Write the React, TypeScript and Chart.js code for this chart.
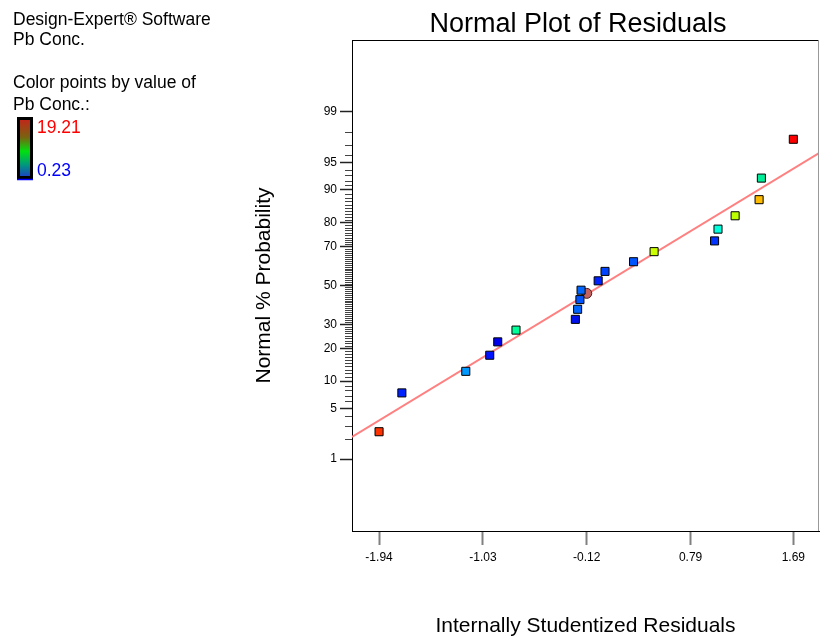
import React, { useEffect, useRef } from 'react';
import { Chart, registerables } from 'chart.js';

Chart.register(...registerables);

// ---- data ----
const RESIDUALS = [-1.94, -1.74, -1.18, -0.97, -0.9, -0.74, -0.22, -0.2, -0.18, -0.17, -0.02, 0.04, 0.29, 0.47, 1.0, 1.03, 1.18, 1.39, 1.41, 1.69];
const NORMAL_PCT = [2.5, 7.5, 12.5, 17.5, 22.5, 27.5, 32.5, 37.5, 42.5, 47.5, 52.5, 57.5, 62.5, 67.5, 72.5, 77.5, 82.5, 87.5, 92.5, 97.5];
const POINT_COLORS = ['#ff3300', '#0022ff', '#0099ff', '#0011ff', '#0000ee', '#00ff99', '#0011ee', '#0066ff', '#0055ff', '#0066ff', '#0022ff', '#0044ff', '#0055ff', '#ccff00', '#0033ff', '#00ffdd', '#bbff00', '#ffbb00', '#00ee99', '#ff0000'];
const CENTER_X = [-0.12];
const CENTER_PCT = [45.8];
const FIT_X = [-2.177, 1.915];
const FIT_PCT = [2.12, 96.2];

const X_MIN = -2.177;
const X_MAX = 1.915;
const X_TICKS = [-1.94, -1.03, -0.12, 0.79, 1.69];
const X_TICK_LABELS = ['-1.94', '-1.03', '-0.12', '0.79', '1.69'];
const Y_MIN_PCT = 0.05;
const Y_MAX_PCT = 99.95;
const Y_MAJOR_PCT = [1, 5, 10, 20, 30, 50, 70, 80, 90, 95, 99];
const Y_MAJOR_LABELS = ['1', '5', '10', '20', '30', '50', '70', '80', '90', '95', '99'];

const TITLE = 'Normal Plot of Residuals';
const X_TITLE = 'Internally Studentized Residuals';
const Y_TITLE = 'Normal % Probability';
const INFO_LINES = ['Design-Expert\u00AE Software', 'Pb Conc.', '', 'Color points by value of', 'Pb Conc.:'];
const COLOR_MAX_LABEL = '19.21';
const COLOR_MIN_LABEL = '0.23';

const FAMILY = '"Liberation Sans", Arial, Helvetica, sans-serif';

// inverse standard normal CDF (Acklam) — maps percentages onto the probit axis
function probit(pct: number): number {
  const p = pct / 100;
  const a = [-3.969683028665376e1, 2.209460984245205e2, -2.759285104469687e2, 1.38357751867269e2, -3.066479806614716e1, 2.506628277459239];
  const b = [-5.447609879822406e1, 1.615858368580409e2, -1.556989798598866e2, 6.680131188771972e1, -1.328068155288572e1];
  const c = [-7.784894002430293e-3, -3.223964580411365e-1, -2.400758277161838, -2.549671348283477, 4.374664141464968, 2.938163982698783];
  const d = [7.784695709041462e-3, 3.224671290700398e-1, 2.445134137142996, 3.754408661907416];
  const pl = 0.02425;
  if (p < pl) {
    const q = Math.sqrt(-2 * Math.log(p));
    return (((((c[0] * q + c[1]) * q + c[2]) * q + c[3]) * q + c[4]) * q + c[5]) / ((((d[0] * q + d[1]) * q + d[2]) * q + d[3]) * q + 1);
  }
  if (p <= 1 - pl) {
    const q = p - 0.5;
    const r = q * q;
    return ((((((a[0] * r + a[1]) * r + a[2]) * r + a[3]) * r + a[4]) * r + a[5]) * q) / (((((b[0] * r + b[1]) * r + b[2]) * r + b[3]) * r + b[4]) * r + 1);
  }
  const q = Math.sqrt(-2 * Math.log(1 - p));
  return -(((((c[0] * q + c[1]) * q + c[2]) * q + c[3]) * q + c[4]) * q + c[5]) / ((((d[0] * q + d[1]) * q + d[2]) * q + d[3]) * q + 1);
}

const decorPlugin = {
  id: 'decor',
  afterDraw(chart: any) {
    const ctx = chart.ctx;
    const area = chart.chartArea;
    const yScale = chart.scales.y;
    ctx.save();
    // minor probability ticks (every integer percent)
    ctx.strokeStyle = '#444';
    ctx.lineWidth = 1;
    ctx.beginPath();
    for (let p = 1; p <= 99; p++) {
      if (Y_MAJOR_PCT.includes(p)) continue;
      const y = Math.round(yScale.getPixelForValue(probit(p))) + 0.5;
      ctx.moveTo(area.left - 7, y);
      ctx.lineTo(area.left, y);
    }
    ctx.stroke();
    // frame top & right
    ctx.strokeStyle = '#000';
    ctx.beginPath();
    ctx.moveTo(Math.round(area.left) + 0.5, Math.round(area.top) + 0.5);
    ctx.lineTo(Math.round(area.right) - 0.5, Math.round(area.top) + 0.5);
    ctx.stroke();
    ctx.strokeStyle = '#999';
    ctx.beginPath();
    ctx.moveTo(Math.round(area.right) - 0.5, Math.round(area.top) + 0.5);
    ctx.lineTo(Math.round(area.right) - 0.5, Math.round(area.bottom));
    ctx.stroke();

    // chart title
    ctx.fillStyle = '#000';
    ctx.font = `27px ${FAMILY}`;
    ctx.textAlign = 'center';
    ctx.textBaseline = 'alphabetic';
    ctx.fillText(TITLE, 578, 32);

    // info text
    ctx.font = `17.5px ${FAMILY}`;
    ctx.textAlign = 'left';
    const baselines = [25, 45, 66, 88, 110];
    INFO_LINES.forEach((t, i) => {
      if (t) ctx.fillText(t, 13, baselines[i]);
    });

    // color bar
    const g = ctx.createLinearGradient(0, 120, 0, 177);
    g.addColorStop(0, '#c0281a');
    g.addColorStop(0.3, '#7a6210');
    g.addColorStop(0.55, '#00e010');
    g.addColorStop(0.78, '#009a7a');
    g.addColorStop(1, '#1a40c8');
    ctx.fillStyle = g;
    ctx.fillRect(19, 119, 12, 59);
    ctx.strokeStyle = '#000';
    ctx.lineWidth = 3;
    ctx.strokeRect(18.5, 118.5, 13, 59);
    ctx.strokeStyle = '#0000ff';
    ctx.lineWidth = 1.5;
    ctx.beginPath();
    ctx.moveTo(17, 179.5);
    ctx.lineTo(33, 179.5);
    ctx.stroke();

    ctx.font = `17.5px ${FAMILY}`;
    ctx.fillStyle = '#ff0000';
    ctx.fillText(COLOR_MAX_LABEL, 37, 133);
    ctx.fillStyle = '#0000ff';
    ctx.fillText(COLOR_MIN_LABEL, 37, 176);
    ctx.restore();
  },
};

export default function App() {
  const canvasRef = useRef<HTMLCanvasElement | null>(null);

  useEffect(() => {
    const canvas = canvasRef.current;
    if (!canvas) return;
    const points = RESIDUALS.map((x, i) => ({ x, y: probit(NORMAL_PCT[i]) }));
    const center = CENTER_X.map((x, i) => ({ x, y: probit(CENTER_PCT[i]) }));
    const fit = FIT_X.map((x, i) => ({ x, y: probit(FIT_PCT[i]) }));

    const chart = new Chart(canvas, {
      type: 'scatter',
      data: {
        datasets: [
          {
            label: 'Residuals',
            data: points,
            pointStyle: 'rect',
            pointRadius: 5.7,
            pointBackgroundColor: POINT_COLORS,
            pointBorderColor: '#000',
            pointBorderWidth: 1,
            showLine: false,
          },
          {
            label: 'Center',
            data: center,
            pointStyle: 'circle',
            pointRadius: 5,
            pointBackgroundColor: '#c46262',
            pointBorderColor: '#4a2020',
            pointBorderWidth: 1,
            showLine: false,
          },
          {
            label: 'Fit',
            data: fit,
            showLine: true,
            borderColor: '#ff8080',
            borderWidth: 2,
            pointRadius: 0,
            fill: false,
          },
        ],
      } as any,
      options: {
        animation: false,
        responsive: false,
        devicePixelRatio: 1,
        layout: { autoPadding: false, padding: { left: 252, right: 3, top: 40, bottom: 0 } },
        plugins: {
          legend: { display: false },
          tooltip: { enabled: false },
          title: { display: false },
        },
        scales: {
          x: {
            type: 'linear',
            position: 'bottom',
            min: X_MIN,
            max: X_MAX,
            bounds: 'data',
            afterBuildTicks: (s: any) => {
              s.ticks = X_TICKS.map((v) => ({ value: v }));
            },
            afterFit: (s: any) => {
              s.height = 108;
              s.paddingRight = 0;
              s.paddingLeft = 0;
            },
            ticks: {
              autoSkip: false,
              maxRotation: 0,
              padding: 5,
              color: '#000',
              font: { family: FAMILY, size: 12 },
              callback: (_v: any, i: number) => X_TICK_LABELS[i],
            },
            grid: { drawOnChartArea: false, tickLength: 14, tickColor: '#808080', tickWidth: 2 },
            border: { color: '#000', width: 1 },
            title: { display: true, text: X_TITLE, color: '#000', font: { family: FAMILY, size: 21 }, padding: 0 },
          },
          y: {
            type: 'linear',
            position: 'left',
            min: probit(Y_MIN_PCT),
            max: probit(Y_MAX_PCT),
            bounds: 'data',
            afterBuildTicks: (s: any) => {
              s.ticks = Y_MAJOR_PCT.map((p) => ({ value: probit(p) }));
            },
            afterFit: (s: any) => {
              s.width = 100;
              s.paddingTop = 0;
              s.paddingBottom = 0;
            },
            ticks: {
              autoSkip: false,
              padding: 3,
              color: '#000',
              font: { family: FAMILY, size: 12 },
              callback: (_v: any, i: number) => Y_MAJOR_LABELS[i],
            },
            grid: { drawOnChartArea: false, tickLength: 12, tickColor: '#222', tickWidth: 1.5 },
            border: { color: '#000', width: 1 },
            title: { display: true, text: Y_TITLE, color: '#000', font: { family: FAMILY, size: 21 }, padding: 0 },
          },
        },
      } as any,
      plugins: [decorPlugin],
    });
    return () => chart.destroy();
  }, []);

  return (
    <div style={{ position: 'absolute', left: 0, top: 0, width: 822, height: 639, background: '#fff' }}>
      <canvas ref={canvasRef} width={822} height={639} style={{ display: 'block', width: 822, height: 639 }} />
    </div>
  );
}
